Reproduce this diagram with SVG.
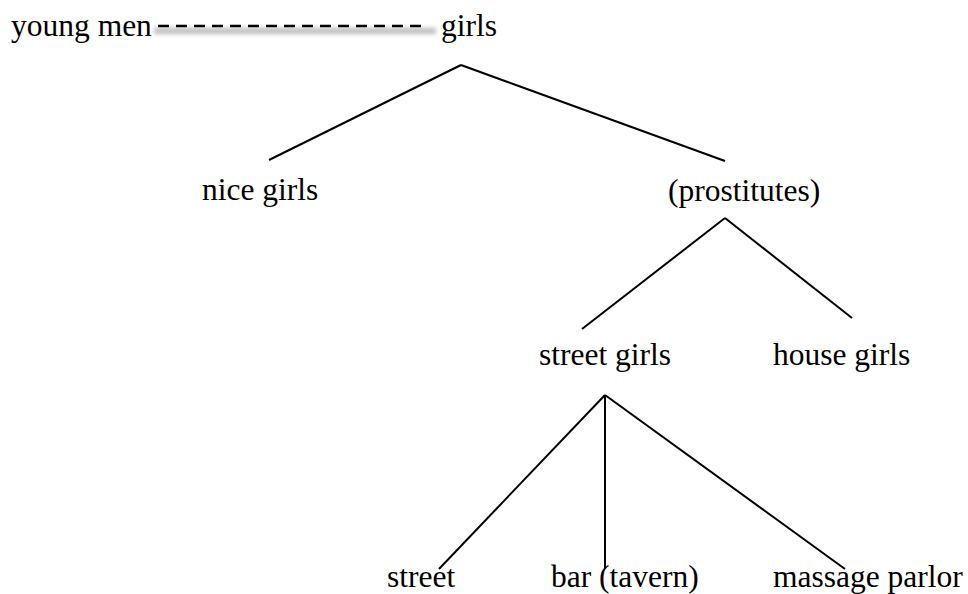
<svg xmlns="http://www.w3.org/2000/svg" width="968" height="594" viewBox="0 0 968 594">
<defs>
<filter id="blur" x="-10%" y="-200%" width="120%" height="500%"><feGaussianBlur stdDeviation="2.2"/></filter>
<style>
text{font-family:"Liberation Serif","Times New Roman",serif;font-size:31.5px;fill:#000}
.c line{stroke:#000;stroke-width:2;fill:none}
line.dash{stroke:#000;stroke-width:2.5;stroke-dasharray:11 7}
</style>
</defs>
<rect width="968" height="594" fill="#fff"/>
<g id="n-youngmen"><text x="11" y="36">young men</text></g>
<g id="n-girls"><text x="441" y="36">girls</text></g>
<g id="n-nicegirls"><text x="202" y="200">nice girls</text></g>
<g id="n-prostitutes"><text x="668" y="201">(prostitutes)</text></g>
<g id="n-streetgirls"><text x="539" y="365">street girls</text></g>
<g id="n-housegirls"><text x="773" y="365">house girls</text></g>
<g id="n-street"><text x="387" y="587">street</text></g>
<g id="n-bar"><text x="551" y="587">bar (tavern)</text></g>
<g id="n-massage"><text x="773" y="587">massage parlor</text></g>
<g id="connectors" class="c">
<rect x="154" y="28" width="282" height="6" fill="#bdbdbd" filter="url(#blur)"/>
<line class="dash" x1="158" y1="26" x2="427" y2="26"/>
<line x1="461" y1="65" x2="269" y2="160"/>
<line x1="461" y1="65" x2="725" y2="161"/>
<line x1="725" y1="218" x2="582" y2="329"/>
<line x1="725" y1="218" x2="852" y2="318"/>
<line x1="605" y1="395" x2="439" y2="569"/>
<line x1="605" y1="395" x2="605" y2="569"/>
<line x1="605" y1="395" x2="845" y2="569"/>
</g>
</svg>
